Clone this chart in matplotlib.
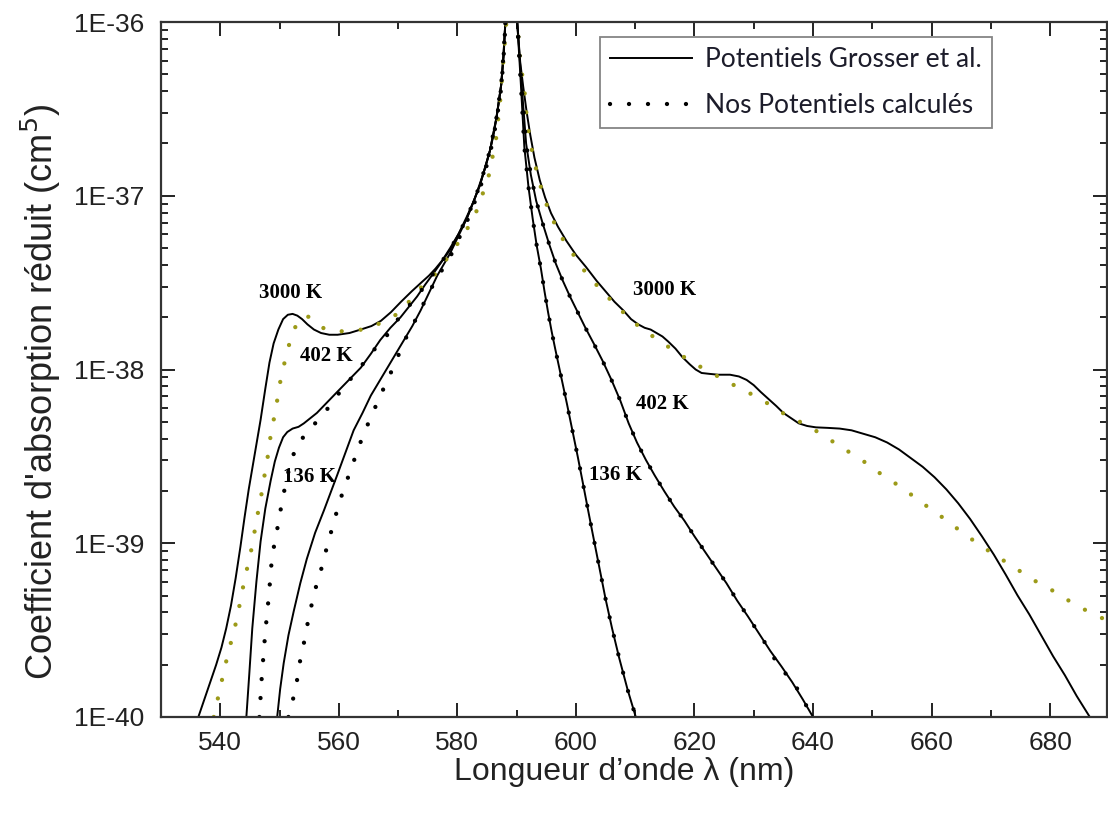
import matplotlib
matplotlib.use("Agg")
import matplotlib.pyplot as plt
import numpy as np
from matplotlib.ticker import MultipleLocator, FixedLocator, NullFormatter, FuncFormatter
from matplotlib.lines import Line2D

# wavelengths (nm) and log10 of the reduced absorption coefficient (cm^5)
# --- Grosser et al. potentials (solid) ---
lam_g3000 = [536.3, 537.3, 538.3, 539.3, 540.2, 541.0, 541.8, 542.6, 543.4, 544.1,
             544.8, 545.8, 546.8, 547.6, 548.3, 549.0, 549.8, 550.6, 551.4, 552.2,
             553.0, 553.8, 554.7, 555.8, 557.0, 558.4, 559.8, 561.8, 563.7, 565.5,
             567.1, 568.8, 570.5, 572.3, 573.9, 575.2, 576.3, 577.5, 578.8, 580.2,
             581.6, 582.8, 583.8, 584.7, 585.5, 586.1, 586.6, 587.0, 587.4, 587.8,
             588.1, 589.0,
             590.1, 590.6, 591.1, 591.7, 592.3, 593.0, 593.9, 594.8, 595.8, 597.0,
             598.4, 600.0, 601.7, 603.5, 605.0, 606.5, 608.0, 609.3, 610.5, 611.6,
             612.6, 613.6, 614.6, 615.6, 616.8, 618.0, 619.2, 620.2, 621.2, 622.5,
             624.0, 626.0, 627.5, 628.8, 630.0, 631.2, 632.5, 633.8, 635.0, 636.3,
             637.6, 639.0, 640.5, 642.5, 644.5, 646.5, 648.5, 650.5, 652.5, 654.5,
             656.5, 658.5, 660.5, 662.5, 664.5, 666.5, 668.5, 670.5, 672.5, 674.5,
             676.5, 678.5, 680.5, 682.5, 684.5, 686.7]
log_g3000 = [-40.0, -39.90, -39.80, -39.70, -39.60, -39.49, -39.36, -39.20, -39.02, -38.85,
             -38.69, -38.49, -38.29, -38.11, -37.96, -37.85, -37.77, -37.71, -37.685, -37.68,
             -37.69, -37.71, -37.74, -37.77, -37.79, -37.80, -37.80, -37.79, -37.77, -37.75,
             -37.72, -37.67, -37.61, -37.55, -37.50, -37.46, -37.42, -37.37, -37.30, -37.22,
             -37.12, -37.03, -36.93, -36.84, -36.74, -36.65, -36.55, -36.46, -36.36, -36.20,
             -36.0, -35.6,
             -36.0, -36.23, -36.37, -36.52, -36.65, -36.78, -36.91, -37.01, -37.10, -37.18,
             -37.26, -37.34, -37.41, -37.49, -37.55, -37.61, -37.66, -37.71, -37.74, -37.76,
             -37.77, -37.79, -37.81, -37.84, -37.88, -37.93, -37.97, -38.0, -38.02, -38.025,
             -38.03, -38.03, -38.04, -38.06, -38.09, -38.13, -38.17, -38.21, -38.25, -38.28,
             -38.31, -38.325, -38.333, -38.336, -38.34, -38.35, -38.37, -38.39, -38.42, -38.46,
             -38.51, -38.56, -38.62, -38.69, -38.77, -38.86, -38.96, -39.065, -39.18, -39.30,
             -39.41, -39.53, -39.65, -39.76, -39.88, -40.0]

lam_g402 = [544.4, 544.9, 545.4, 546.1, 546.8, 547.6, 548.5, 549.2, 549.9, 550.6,
            551.3, 552.2, 553.2, 554.1, 555.2, 556.3, 558.0, 559.7, 561.7, 563.7,
            565.4, 567.0, 568.7, 570.4, 571.8, 573.2, 574.6, 576.1, 578.8, 581.6,
            583.8, 585.5, 586.6, 587.4, 587.8, 588.1, 589.0,
            590.1, 590.7, 591.6, 592.4, 593.3, 594.4, 595.5, 596.6, 597.8, 599.0,
            600.3, 601.6, 603.0, 604.5, 606.0, 607.5, 608.9, 610.3, 611.8, 613.3,
            614.9, 616.6, 618.3, 620.0, 621.8, 623.6, 625.4, 627.2, 629.0, 630.9,
            632.8, 634.7, 636.5, 638.3, 640.0]
log_g402 = [-40.0, -39.75, -39.49, -39.22, -38.99, -38.80, -38.64, -38.53, -38.45, -38.39,
            -38.36, -38.34, -38.33, -38.31, -38.28, -38.25, -38.19, -38.13, -38.06, -37.99,
            -37.91, -37.83, -37.76, -37.70, -37.64, -37.58, -37.51, -37.44, -37.31, -37.13,
            -36.94, -36.74, -36.55, -36.36, -36.18, -36.0, -35.6,
            -36.0, -36.3, -36.70, -36.88, -37.03, -37.16, -37.28, -37.39, -37.49, -37.58,
            -37.67, -37.76, -37.85, -37.95, -38.06, -38.18, -38.31, -38.42, -38.52, -38.61,
            -38.70, -38.79, -38.87, -38.96, -39.05, -39.14, -39.23, -39.33, -39.42, -39.52,
            -39.62, -39.71, -39.80, -39.90, -40.0]

lam_g136 = [549.6, 550.1, 550.7, 551.5, 552.4, 553.5, 554.6, 556.0, 557.5, 558.6,
            559.7, 561.1, 562.5, 564.0, 565.4, 566.8, 568.2, 569.6, 571.0, 572.4,
            573.8, 575.2, 576.6, 578.8, 581.6, 583.8, 585.5, 586.6, 587.4, 587.8,
            588.1, 589.0,
            590.1, 590.7, 591.3, 592.0, 592.7, 593.4, 594.1, 594.7, 595.3, 595.9,
            596.5, 597.5, 598.5, 599.4, 600.3, 601.1, 602.0, 602.8, 603.9, 605.0,
            606.1, 607.3, 608.7, 610.1]
log_g136 = [-40.0, -39.84, -39.69, -39.53, -39.39, -39.23, -39.09, -38.94, -38.81, -38.71,
            -38.61, -38.48, -38.35, -38.25, -38.15, -38.07, -37.99, -37.91, -37.83, -37.75,
            -37.66, -37.56, -37.46, -37.33, -37.13, -36.94, -36.74, -36.55, -36.36, -36.18,
            -36.0, -35.6,
            -36.0, -36.35, -36.72, -36.95, -37.13, -37.29, -37.42, -37.55, -37.67, -37.78,
            -37.88, -38.04, -38.20, -38.35, -38.50, -38.64, -38.80, -38.94, -39.13, -39.32,
            -39.49, -39.66, -39.84, -40.0]

# --- our calculated potentials (dotted) ---
lam_c3000 = [538.9, 540.0, 541.4, 542.3, 543.0, 544.2, 545.0, 545.6, 546.2, 546.8,
             547.3, 547.9, 548.3, 548.9, 549.5, 550.0, 550.7, 551.5, 552.3, 553.2,
             554.2, 555.2, 556.3, 557.7, 559.5, 561.0, 564.0, 567.3, 570.4, 573.5,
             576.6, 578.9, 581.0, 583.0, 585.2, 586.5, 587.2, 587.7, 588.2, 589.0,
             590.1, 590.4, 590.6, 591.1, 591.5, 591.7, 592.2, 592.8, 593.6, 594.5,
             595.6, 597.2, 599.2, 601.4, 603.9, 607.0, 610.2, 613.4, 616.5, 619.7,
             622.9, 626.1, 629.5, 632.6, 635.8, 639.0, 642.2, 645.4, 648.6, 651.8,
             655.0, 658.1, 661.4, 664.5, 667.7, 670.8, 674.0, 677.1, 680.3, 683.6,
             686.8, 690.0]
log_c3000 = [-40.0, -39.83, -39.62, -39.51, -39.40, -39.19, -39.08, -38.97, -38.85, -38.75,
             -38.64, -38.53, -38.42, -38.31, -38.20, -38.09, -37.98, -37.87, -37.78, -37.72,
             -37.69, -37.70, -37.73, -37.77, -37.78, -37.78, -37.77, -37.73, -37.67, -37.54,
             -37.44, -37.33, -37.23, -37.11, -36.90, -36.68, -36.46, -36.25, -36.03, -35.6,
             -36.0, -36.13, -36.23, -36.34, -36.45, -36.56, -36.67, -36.78, -36.89, -37.0,
             -37.10, -37.22, -37.32, -37.43, -37.53, -37.64, -37.74, -37.82, -37.89, -37.96,
             -38.02, -38.08, -38.14, -38.20, -38.27, -38.32, -38.39, -38.46, -38.53, -38.61,
             -38.68, -38.76, -38.84, -38.92, -39.0, -39.07, -39.14, -39.21, -39.27, -39.34,
             -39.40, -39.45]

lam_c402 = [546.6, 547.0, 547.6, 548.2, 548.7, 549.3, 549.9, 550.4, 551.8, 553.0,
            555.5, 558.0, 560.6, 563.1, 565.6, 568.2, 570.4, 573.2, 576.1, 578.8,
            581.6, 583.8, 585.5, 586.6, 587.4, 587.8, 588.1, 589.0,
            590.1, 590.7, 591.6, 592.4, 593.3, 594.4, 595.5, 596.6, 597.8, 599.0,
            600.3, 601.6, 603.0, 604.5, 606.0, 607.5, 608.9, 610.3, 611.8, 613.3,
            614.9, 616.6, 618.3, 620.0, 621.8, 623.6, 625.4, 627.2, 629.0, 630.9,
            632.6, 634.1, 636.9, 638.8, 639.8]
log_c402 = [-40.0, -39.77, -39.51, -39.30, -39.09, -38.97, -38.87, -38.76, -38.54, -38.43,
            -38.33, -38.23, -38.11, -38.01, -37.90, -37.80, -37.69, -37.58, -37.44, -37.31,
            -37.13, -36.94, -36.74, -36.55, -36.36, -36.18, -36.0, -35.6,
            -36.0, -36.3, -36.70, -36.88, -37.03, -37.16, -37.28, -37.39, -37.49, -37.58,
            -37.67, -37.76, -37.85, -37.95, -38.06, -38.18, -38.31, -38.42, -38.52, -38.61,
            -38.70, -38.79, -38.87, -38.96, -39.05, -39.14, -39.23, -39.33, -39.42, -39.52,
            -39.61, -39.70, -39.81, -39.93, -40.0]

lam_c136 = [551.5, 552.4, 553.0, 553.5, 554.2, 554.8, 555.5, 556.3, 557.2, 558.0,
            558.9, 559.8, 560.8, 562.0, 563.1, 564.2, 565.6, 567.0, 568.5, 569.9,
            571.3, 573.0, 574.6, 576.1, 578.8, 581.6, 583.8, 585.5, 586.6, 587.4,
            587.8, 588.1, 589.0,
            590.1, 590.7, 591.3, 592.0, 592.7, 593.4, 594.1, 594.7, 595.3, 595.9,
            596.5, 597.5, 598.5, 599.4, 600.3, 601.1, 602.0, 602.8, 603.9, 605.0,
            606.1, 607.3, 608.7, 610.1]
log_c136 = [-40.0, -39.88, -39.78, -39.67, -39.56, -39.45, -39.34, -39.23, -39.13, -39.02,
            -38.91, -38.80, -38.69, -38.58, -38.47, -38.37, -38.26, -38.15, -38.04, -37.93,
            -37.82, -37.71, -37.60, -37.50, -37.35, -37.15, -36.96, -36.76, -36.57, -36.38,
            -36.2, -36.02, -35.6,
            -36.0, -36.35, -36.72, -36.95, -37.13, -37.29, -37.42, -37.55, -37.67, -37.78,
            -37.88, -38.04, -38.20, -38.35, -38.50, -38.64, -38.80, -38.94, -39.13, -39.32,
            -39.49, -39.66, -39.84, -40.0]

# temperature labels: text, wavelength, log10 value
temp_labels = ["3000 K", "402 K", "136 K", "3000 K", "402 K", "136 K"]
temp_lam = [551.8, 557.9, 555.1, 615.0, 614.6, 606.6]
temp_log = [-37.56, -37.92, -38.62, -37.54, -38.20, -38.61]

y_ticks = [1e-40, 1e-39, 1e-38, 1e-37, 1e-36]
legend_labels = ["Potentiels Grosser et al.", "Nos Potentiels calculés"]

olive = "#9c9a18"
dots = (0, (0.01, 4.4))

fig = plt.figure(figsize=(11.08, 8.17), dpi=100)
ax = fig.add_axes([161 / 1108, 100 / 817, 946 / 1108, 695 / 817])

for lam, lg in [(lam_g3000, log_g3000), (lam_g402, log_g402), (lam_g136, log_g136)]:
    ax.plot(lam, 10.0 ** np.array(lg), color="black", lw=1.4)

for lam, lg, col in [(lam_c3000, log_c3000, olive), (lam_c402, log_c402, "black"),
                     (lam_c136, log_c136, "black")]:
    ax.plot(lam, 10.0 ** np.array(lg), color=col, lw=3.1, linestyle=dots,
            dash_capstyle="round")

for txt, lx, ly in zip(temp_labels, temp_lam, temp_log):
    ax.text(lx, 10.0 ** ly, txt, family="Liberation Serif", fontweight="bold",
            fontsize=15, ha="center", va="center")

ax.set_yscale("log")
ax.set_xlim(530, 689.6)
ax.set_ylim(1e-40, 1e-36)

ax.xaxis.set_major_locator(MultipleLocator(20))
ax.xaxis.set_minor_locator(MultipleLocator(10))
ax.yaxis.set_major_locator(FixedLocator(y_ticks))
ax.yaxis.set_minor_locator(FixedLocator([m * t for t in y_ticks[:-1] for m in range(2, 10)]))
ax.yaxis.set_minor_formatter(NullFormatter())
ax.yaxis.set_major_formatter(FuncFormatter(lambda v, p: "1E%d" % int(round(np.log10(v)))))

ax.tick_params(which="both", direction="in", top=True, right=True, width=1.4,
               labelsize=19, colors="#222222")
ax.tick_params(which="major", length=10)
ax.tick_params(which="minor", length=5)
ax.tick_params(axis="y", pad=12)
ax.tick_params(axis="x", pad=10)
for lab in ax.get_xticklabels() + ax.get_yticklabels():
    lab.set_family("Liberation Sans")
for sp in ax.spines.values():
    sp.set_linewidth(1.6)
    sp.set_color("#333333")

ax.set_xlabel("Longueur d\u2019onde \u03bb (nm)", family="Liberation Sans", fontsize=23,
              color="#222222")
ax.xaxis.set_label_coords(0.49, -0.058)
ax.set_ylabel("Coefficient d'absorption réduit (cm$^5$)", family="Liberation Sans",
              fontsize=26, color="#222222")
ax.yaxis.set_label_coords(-0.104, 0.468)

handles = [Line2D([], [], color="black", lw=1.4),
           Line2D([], [], color="black", lw=3.1, linestyle=dots, dash_capstyle="round")]
leg = ax.legend(handles, legend_labels, loc="upper left", bbox_to_anchor=(0.464, 0.978),
                prop={"family": "Lato", "size": 19}, frameon=True, fancybox=False,
                handlelength=3.1, handletextpad=0.5, labelspacing=0.78,
                borderpad=0.38, borderaxespad=0)
leg.get_frame().set_edgecolor("#666666")
leg.get_frame().set_linewidth(1.3)
for t in leg.get_texts():
    t.set_color("#1c1c2a")

fig.savefig("out.png", dpi=100)
